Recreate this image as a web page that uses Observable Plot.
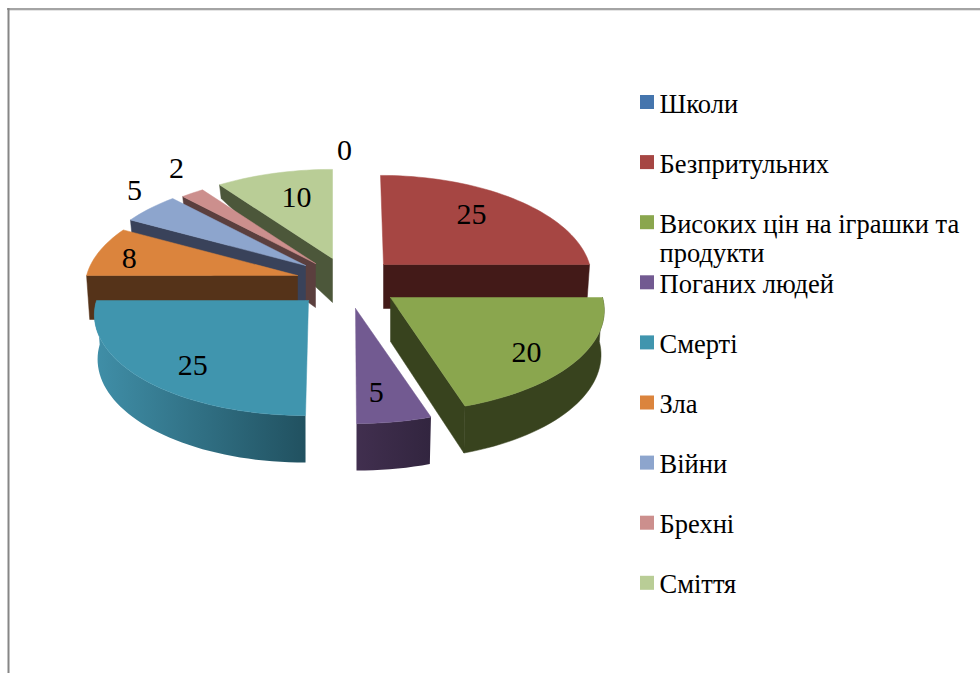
<!DOCTYPE html>
<html>
<head>
<meta charset="utf-8">
<style>html,body{margin:0;padding:0;background:#fff}svg{display:block}</style>
<script src="https://cdn.jsdelivr.net/npm/d3@7"></script>
<script src="https://cdn.jsdelivr.net/npm/@observablehq/plot@0.6"></script>
</head>
<body>
<div id="chart"></div>
<script>
const categories = ["Школи","Безпритульних","Високих цін на іграшки та\nпродукти","Поганих людей","Смерті","Зла","Війни","Брехні","Сміття"];
const values = [0,25,20,5,25,8,5,2,10];
const topColors = ["#4575ad","#a64643","#8aa64e","#725a91","#4095ae","#db843d","#8da5cd","#cc8f8d","#b9cd96"];
const wallColors = ["#22385a","#431a18","#38431e","url(#wallPurple)","url(#wallTeal)","#553319","#39425a","#5b3f3e","#4c573a"];
// explosion of each slice: where its tip lands, its width factor, and the slant of its axis
const tipX = [332,383,390,355,308,297,305,315,332];
const tipY = [258,264,297,308,300,275,265,263,258];
const widthFactor = [1,0.972,1,1,1,0.995,1,1,1];
const slant = [0,-3,0,-1,3,0,0,0,0];
// where each value label sits, as angle (deg clockwise from top) and radius fraction
const labelAngle = [3,41.2,130.5,173.6,219.7,282,312.8,325.3,344.4];
const labelRadius = [1.25,0.704,0.789,0.762,0.778,0.833,1.214,1.308,0.684];
const drawOrder = [0,8,7,6,5,4,1,2,3];

// pie projection
const RX = 212, RY = 100.4, PERSP = 0.127, DEPTH = 44;
const rad = d => d * Math.PI / 180;
const total = d3.sum(values);
const cum = d3.cumsum(values);
const starts = values.map((v, i) => (cum[i] - v) / total * 360);
const ends = values.map((v, i) => cum[i] / total * 360);

function topPt(i, deg, r = 1) {
  const X = r * Math.sin(rad(deg)), Y = r * Math.cos(rad(deg));
  const s = 1 / (1 + PERSP * Y);
  return {px: tipX[i] + RX * widthFactor[i] * X * s + slant[i] * Y, py: tipY[i] - RY * Y * s, Y, i};
}
function bottomPt(i, deg, r = 1) {
  const p = topPt(i, deg, r);
  const d = p.Y <= 0 ? DEPTH * (1 - 0.07 * p.Y) : DEPTH * (1 - 0.85 * p.Y);
  return {px: tipX[i] + (p.px - tipX[i]) * 0.985, py: p.py + d};
}
function arcDegs(a, b) {
  const n = Math.max(2, Math.ceil((b - a) / 2));
  return d3.range(n + 1).map(k => a + (b - a) * k / n);
}
const closed = pts => [...pts, pts[0]];
const poly = (pts, fill) => Plot.line(closed(pts), {x: "px", y: "py", fill, stroke: fill.startsWith("url") ? "none" : fill, strokeWidth: 0.5, curve: "linear"});

const sliceMarks = [];
for (const i of drawOrder) {
  if (values[i] === 0) continue;
  const a = starts[i], b = ends[i];
  const wall = wallColors[i];
  // cut faces that turn toward the viewer
  if (Math.sin(rad(a)) < -0.01) sliceMarks.push(poly([topPt(i, a, 0), topPt(i, a), bottomPt(i, a), bottomPt(i, a, 0)], wall));
  if (-Math.sin(rad(b)) < -0.01) sliceMarks.push(poly([topPt(i, b, 0), topPt(i, b), bottomPt(i, b), bottomPt(i, b, 0)], wall));
  // outer rim on the near half
  const a2 = Math.max(a, 90), b2 = Math.min(b, 270);
  if (a2 < b2) {
    const ds = arcDegs(a2, b2);
    sliceMarks.push(poly([...ds.map(d => topPt(i, d)), ...ds.slice().reverse().map(d => bottomPt(i, d))], wall));
  }
  // top face
  sliceMarks.push(poly([topPt(i, a, 0), ...arcDegs(a, b).map(d => topPt(i, d))], topColors[i]));
}

const labels = values.map((v, i) => ({...topPt(i, labelAngle[i], labelRadius[i]), v}));
const legendRows = categories.map((c, i) => ({c, i, color: topColors[i]}));

const defs = () => {
  const ns = "http://www.w3.org/2000/svg";
  const d = document.createElementNS(ns, "defs");
  const add = (id, c1, c2) => {
    const g = document.createElementNS(ns, "linearGradient");
    g.setAttribute("id", id);
    [[0, c1], [1, c2]].forEach(([o, c]) => {
      const s = document.createElementNS(ns, "stop");
      s.setAttribute("offset", o); s.setAttribute("stop-color", c);
      g.appendChild(s);
    });
    d.appendChild(g);
  };
  add("wallTeal", "#408fa8", "#215160");
  add("wallPurple", "#412f4f", "#32253f");
  return d;
};

const serif = "'Liberation Serif','Times New Roman',serif";
const chart = Plot.plot({
  width: 980, height: 673,
  marginTop: 0, marginRight: 0, marginBottom: 0, marginLeft: 0,
  x: {domain: [0, 980], range: [0, 980], axis: null},
  y: {domain: [0, 673], range: [0, 673], axis: null},
  style: {background: "#fff"},
  marks: [
    defs,
    Plot.ruleY([10], {x1: 9, x2: 980, stroke: "#e4e4e4", strokeWidth: 1}),
    Plot.ruleX([8], {y1: 8, y2: 673, stroke: "#868686", strokeWidth: 2}),
    Plot.ruleY([8.5], {x1: 7, x2: 980, stroke: "#868686", strokeWidth: 1.5}),
    ...sliceMarks,
    Plot.text(labels, {x: "px", y: "py", text: d => String(d.v), fontFamily: serif, fontSize: 30, fill: "#000", textAnchor: "middle", lineAnchor: "middle"}),
    Plot.rect(legendRows, {x1: 640, x2: 654, y1: d => 95 + 60.1 * d.i, y2: d => 109 + 60.1 * d.i, fill: "color"}),
    Plot.text(legendRows, {x: 659, y: d => 91 + 60.1 * d.i, text: "c", fontFamily: serif, fontSize: 26.5, lineHeight: 1.12, fill: "#000", textAnchor: "start", lineAnchor: "top"})
  ]
});
document.getElementById("chart").appendChild(chart);
</script>
</body>
</html>
